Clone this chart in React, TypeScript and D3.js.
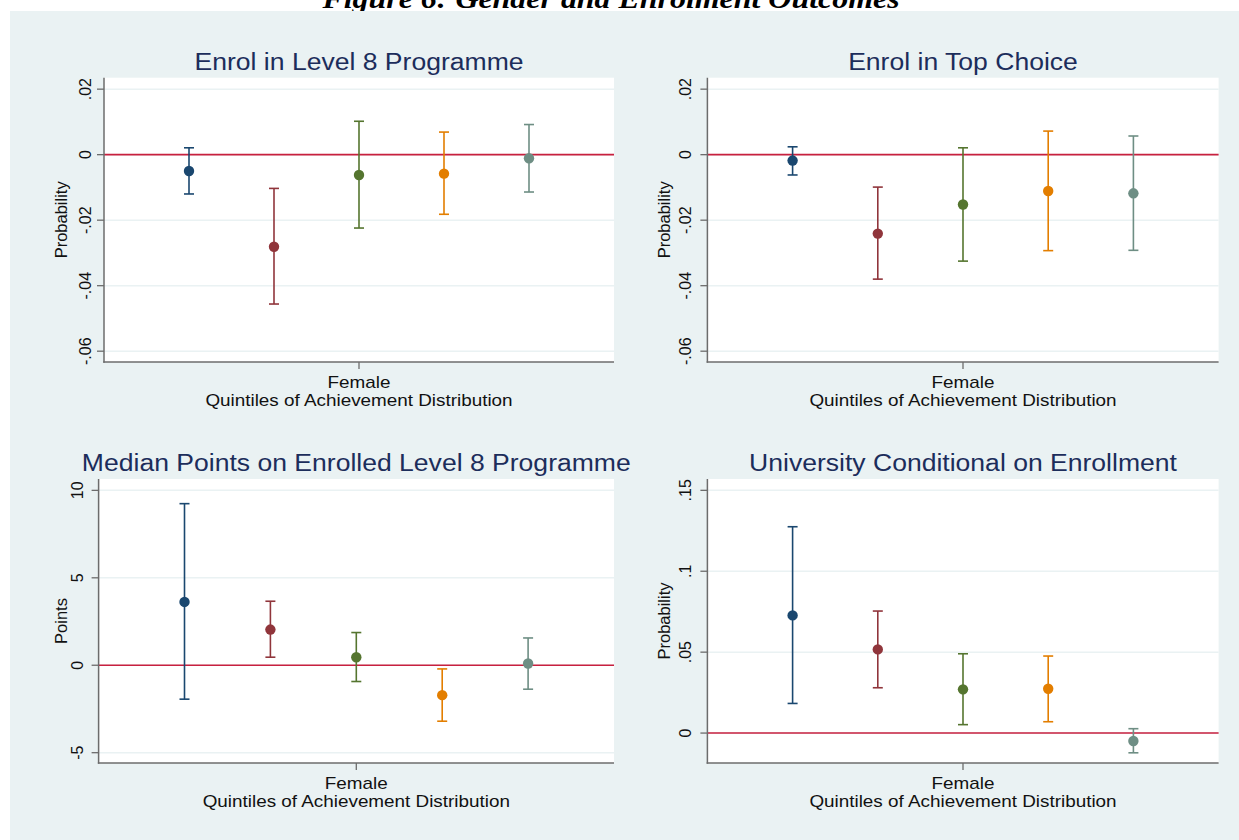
import React from "react";
import * as d3 from "d3";

// quintiles of the achievement distribution, plotted at 1..5
const quintiles = [1, 2, 3, 4, 5];
const quintileColors = ["#1a476f", "#90353b", "#55752f", "#e37e00", "#6e8e84"];

const level8Est = [-0.005, -0.0281, -0.0062, -0.0058, -0.0011];
const level8Lo = [-0.012, -0.0456, -0.0224, -0.0182, -0.0114];
const level8Hi = [0.0021, -0.0103, 0.0102, 0.0069, 0.0092];

const topChoiceEst = [-0.0018, -0.0241, -0.0152, -0.0111, -0.0118];
const topChoiceLo = [-0.0062, -0.038, -0.0325, -0.0293, -0.0292];
const topChoiceHi = [0.0024, -0.0099, 0.0021, 0.0072, 0.0057];

const pointsEst = [3.62, 2.04, 0.46, -1.71, 0.1];
const pointsLo = [-1.94, 0.46, -0.93, -3.2, -1.37];
const pointsHi = [9.24, 3.66, 1.87, -0.21, 1.56];

const uniEst = [0.0727, 0.0517, 0.027, 0.0274, -0.0049];
const uniLo = [0.0183, 0.028, 0.0052, 0.007, -0.0122];
const uniHi = [0.1275, 0.0754, 0.049, 0.0476, 0.0027];

const probTicks = [0.02, 0, -0.02, -0.04, -0.06];
const pointsTicks = [10, 5, 0, -5];
const uniTicks = [0.15, 0.1, 0.05, 0];

const figureTitle = "Figure 6: Gender and Enrolment Outcomes";
const xCategory = "Female";
const xTitle = "Quintiles of Achievement Distribution";

const BG = "#eaf2f3";
const SANS = "Arial, 'Liberation Sans', Helvetica, sans-serif";
const SX = 1.13; // source image is a bit wider than tall

// stata-ish labels: .02, -.02, .1 (plain hyphen, no leading zero)
const fmt = (v: number) => {
  const s = d3.format("~g")(v).replace("\u2212", "-");
  return s.replace(/^(-?)0\./, "$1.");
};

type PanelProps = {
  title: string;
  yTitle: string;
  est: number[];
  lo: number[];
  hi: number[];
  ticks: number[];
  domain: [number, number];
  box: { left: number; right: number; top: number; bottom: number };
  titleY: number;
  tickLabelX: number;
  yTitleX: number;
};

const HText = ({ x, y, size, children, color = "#111", sx = SX }: any) => (
  <g transform={`translate(${x},${y}) scale(${sx},1)`}>
    <text x={0} y={0} textAnchor="middle" fontFamily={SANS} fontSize={size} fill={color}>
      {children}
    </text>
  </g>
);

const Panel = ({ title, yTitle, est, lo, hi, ticks, domain, box, titleY, tickLabelX, yTitleX }: PanelProps) => {
  const x = d3.scaleLinear().domain([0, 6]).range([box.left, box.right]);
  const y = d3.scaleLinear().domain(domain).range([box.bottom, box.top]);
  const cx = (box.left + box.right) / 2;
  const cy = (box.top + box.bottom) / 2;
  const cap = 5;

  return (
    <g>
      <rect x={box.left} y={box.top} width={box.right - box.left} height={box.bottom - box.top} fill="#fff" />
      {ticks.map((t) => (
        <line key={"g" + t} x1={box.left} x2={box.right} y1={y(t)} y2={y(t)} stroke={BG} strokeWidth={1.5} />
      ))}
      <line x1={box.left} x2={box.right} y1={y(0)} y2={y(0)} stroke="#c8203f" strokeWidth={1.6} />

      {quintiles.map((q, i) => (
        <g key={q} stroke={quintileColors[i]} strokeWidth={1.6}>
          <line x1={x(q)} x2={x(q)} y1={y(lo[i])} y2={y(hi[i])} />
          <line x1={x(q) - cap} x2={x(q) + cap} y1={y(lo[i])} y2={y(lo[i])} />
          <line x1={x(q) - cap} x2={x(q) + cap} y1={y(hi[i])} y2={y(hi[i])} />
          <circle cx={x(q)} cy={y(est[i])} r={5.2} fill={quintileColors[i]} stroke="none" />
        </g>
      ))}

      {/* y axis */}
      <line x1={box.left} x2={box.left} y1={box.top} y2={box.bottom + 0.75} stroke="#6c6c6c" strokeWidth={1.5} />
      {ticks.map((t) => (
        <g key={"t" + t}>
          <line x1={box.left - 7} x2={box.left} y1={y(t)} y2={y(t)} stroke="#6c6c6c" strokeWidth={1.3} />
          <text
            transform={`translate(${tickLabelX},${y(t)}) rotate(-90)`}
            dy="0.35em"
            textAnchor="middle"
            fontFamily={SANS}
            fontSize={16}
            fill="#111"
          >
            {fmt(t)}
          </text>
        </g>
      ))}
      <text
        transform={`translate(${yTitleX},${cy}) rotate(-90)`}
        dy="0.35em"
        textAnchor="middle"
        fontFamily={SANS}
        fontSize={16.5}
        fill="#111"
      >
        {yTitle}
      </text>

      {/* x axis */}
      <line x1={box.left - 0.75} x2={box.right} y1={box.bottom} y2={box.bottom} stroke="#6c6c6c" strokeWidth={1.5} />
      <line x1={x(3)} x2={x(3)} y1={box.bottom} y2={box.bottom + 7} stroke="#6c6c6c" strokeWidth={1.3} />
      <HText x={x(3)} y={box.bottom + 26} size={16} sx={1.18}>
        {xCategory}
      </HText>
      <HText x={cx} y={box.bottom + 44} size={16} sx={1.18}>
        {xTitle}
      </HText>

      <HText x={cx} y={titleY} size={23.5} color="#1c2d5b">
        {title}
      </HText>
    </g>
  );
};

export default function App() {
  const topBox = { top: 77.7, bottom: 362 };
  const botBox = { top: 479, bottom: 763 };
  return (
    <svg
      width={1239}
      height={840}
      style={{ position: "absolute", left: 0, top: 0, background: "#fff" }}
    >
      <g transform={`translate(611,8) scale(1.14,1)`}>
        <text
          x={0}
          y={0}
          textAnchor="middle"
          fontFamily="'Liberation Serif', 'Times New Roman', serif"
          fontWeight="bold"
          fontStyle="italic"
          fontSize={28}
          fill="#000"
        >
          {figureTitle}
        </text>
      </g>
      <rect x={10} y={11} width={1229} height={829} fill={BG} />

      <Panel
        title="Enrol in Level 8 Programme"
        yTitle="Probability"
        est={level8Est}
        lo={level8Lo}
        hi={level8Hi}
        ticks={probTicks}
        domain={[-0.0633, 0.0235]}
        box={{ left: 104, right: 614, ...topBox }}
        titleY={70}
        tickLabelX={85}
        yTitleX={61}
      />
      <Panel
        title="Enrol in Top Choice"
        yTitle="Probability"
        est={topChoiceEst}
        lo={topChoiceLo}
        hi={topChoiceHi}
        ticks={probTicks}
        domain={[-0.0633, 0.0235]}
        box={{ left: 707.4, right: 1218.6, ...topBox }}
        titleY={70}
        tickLabelX={685}
        yTitleX={664}
      />
      <Panel
        title="Median Points on Enrolled Level 8 Programme"
        yTitle="Points"
        est={pointsEst}
        lo={pointsLo}
        hi={pointsHi}
        ticks={pointsTicks}
        domain={[-5.59, 10.65]}
        box={{ left: 98.6, right: 614, ...botBox }}
        titleY={471}
        tickLabelX={77}
        yTitleX={61}
      />
      <Panel
        title="University Conditional on Enrollment"
        yTitle="Probability"
        est={uniEst}
        lo={uniLo}
        hi={uniHi}
        ticks={uniTicks}
        domain={[-0.0185, 0.157]}
        box={{ left: 707.4, right: 1218.6, ...botBox }}
        titleY={471}
        tickLabelX={685}
        yTitleX={664}
      />
    </svg>
  );
}
